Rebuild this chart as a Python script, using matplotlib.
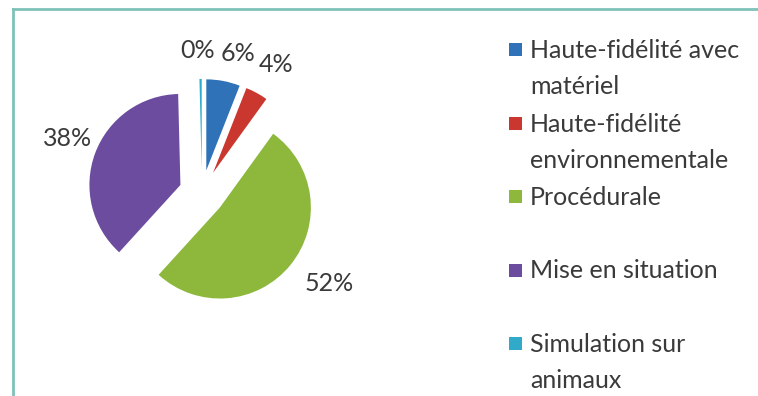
import matplotlib
matplotlib.use("Agg")
import matplotlib.pyplot as plt
from matplotlib.patches import Rectangle
from matplotlib.lines import Line2D

# data: share of simulation types
labels = [
    "Haute-fidélité avec\nmatériel",
    "Haute-fidélité\nenvironnementale",
    "Procédurale",
    "Mise en situation",
    "Simulation sur\nanimaux",
]
values = [6, 4, 52, 38, 0.4]
colors = ["#2F72B8", "#C9372F", "#8DB83C", "#6B4C9F", "#31A9C9"]

W, H = 758, 396
FONT = "Lato"
TXT = "#3A3A3A"
FS = 18

fig = plt.figure(figsize=(W / 100, H / 100), dpi=100)

# --- pie (unit radius, axes sized so radius = R_PX pixels) ---
R_PX = 91
cx, cy = 202, 193           # pie centre in pixels from top-left
L = 2.0
side = 2 * L * R_PX
ax = fig.add_axes([(cx - side / 2) / W, (H - cy - side / 2) / H, side / W, side / H])

wedges, texts, autotexts = ax.pie(
    values,
    colors=colors,
    explode=[0.253] * len(values),
    startangle=90,
    counterclock=False,
    autopct=lambda p: f"{p:.0f}%",
    pctdistance=1.40,
    wedgeprops=dict(linewidth=0),
    textprops=dict(fontsize=FS, color=TXT, family=FONT),
)
ax.set_xlim(-L, L)
ax.set_ylim(-L, L)
ax.set_aspect("equal")
ax.axis("off")

# small pixel nudges so the crowded top labels sit side by side
nudges = [(8, 8), (2, 3), (10, -4), (6, -2), (-3, 8)]
for t, (dx, dy) in zip(autotexts, nudges):
    x, y = t.get_position()
    t.set_position((x + dx / R_PX, y - dy / R_PX))

# --- overlay in pixel coordinates: border + legend ---
ov = fig.add_axes([0, 0, 1, 1])
ov.set_xlim(0, W)
ov.set_ylim(H, 0)
ov.axis("off")
ov.patch.set_alpha(0)

border = "#7FC2B8"
ov.add_line(Line2D([13, 13], [H + 2, 9], color=border, linewidth=2))
ov.add_line(Line2D([13, W + 2], [9, 9], color=border, linewidth=2))

# legend entries, each slot two lines tall, text top-aligned
leg_base = 58
slot = 73.5
line_h = 36
for i, (lab, col) in enumerate(zip(labels, colors)):
    y0 = leg_base + i * slot
    ov.add_patch(Rectangle((509, y0 - 15), 13, 13, facecolor=col, edgecolor="none"))
    for j, line in enumerate(lab.split("\n")):
        ov.text(530, y0 + j * line_h, line, fontsize=FS, color=TXT,
                family=FONT, va="baseline", ha="left")

fig.savefig("out.png", dpi=100, facecolor="white")
